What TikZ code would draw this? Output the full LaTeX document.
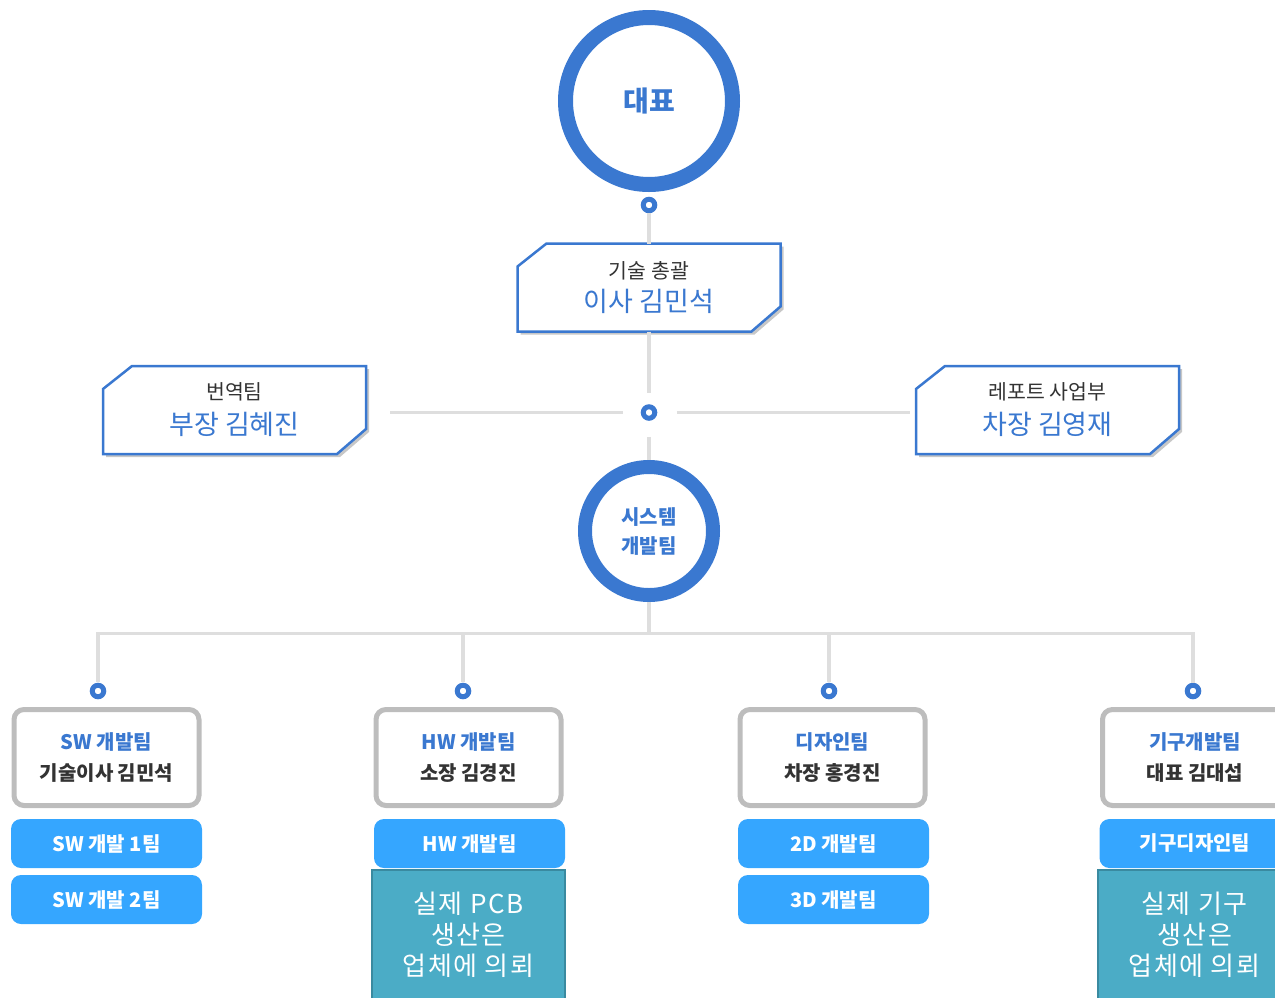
\documentclass[tikz,border=0pt]{standalone}
\usepackage{fontspec}
\setmainfont{Noto Sans CJK KR}
\newfontfamily\tealfont{Noto Sans CJK KR}[LetterSpace=6]
\usetikzlibrary{shadows,calc}
\definecolor{ringblue}{HTML}{3A78D0}
\definecolor{darktxt}{HTML}{333333}
\definecolor{gline}{HTML}{DEDEDE}
\definecolor{gbox}{HTML}{BDBDBD}
\definecolor{lblue}{HTML}{35A6FF}
\definecolor{tealfill}{HTML}{4BACC6}
\definecolor{tealline}{HTML}{3A8AA0}
\newcommand\pentbox[6]{%
  \node[pentbody] (#1) at (#2,#3) {};
  \draw[pentline] ([xshift=29pt]#1.north west) -- (#1.north east) -- ([yshift=25pt]#1.south east)
     -- ([xshift=-29pt]#1.south east) -- (#1.south west) -- ([yshift=-23pt]#1.north west) -- cycle;
  \node[pentsmall] (#1-a) at ([yshift=#6]#1.center) {#4};
  \node[pentbig] (#1-b) at ([yshift=-14pt]#1.center) {#5};
}
\begin{document}
\begin{tikzpicture}[x=1pt,y=-1pt,
  ring/.style={circle, draw=ringblue, fill=white, inner sep=0, text=ringblue, font=\bfseries, align=center},
  dot/.style={circle, draw=ringblue, line width=5pt, fill=white, minimum size=11.5pt, inner sep=0},
  conn/.style={draw=gline, line width=3.5pt},
  pentbody/.style={rectangle, minimum width=263pt, minimum height=88pt, inner sep=0, outer sep=0},
  pentline/.style={draw=ringblue, line width=2.5pt, fill=white, line join=miter,
     drop shadow={shadow xshift=3pt, shadow yshift=-3pt, opacity=0.22, fill=black}},
  pentsmall/.style={inner sep=0, text=darktxt, font=\fontsize{20.5}{24}\selectfont},
  pentbig/.style={inner sep=0, text=ringblue, font=\fontsize{27}{30}\selectfont},
  teambox/.style={rectangle, draw=gbox, line width=5pt, rounded corners=10pt, fill=white,
     minimum width=185pt, minimum height=96pt, inner sep=0, align=center, text=darktxt,
     font=\fontsize{20}{31}\selectfont\bfseries},
  subbox/.style={rectangle, fill=lblue, rounded corners=10pt, minimum width=191pt, minimum height=49pt,
     inner sep=0, text=white, font=\fontsize{20}{24}\selectfont\bfseries},
  tealbox/.style={rectangle, fill=tealfill, draw=tealline, line width=1.5pt, minimum width=193pt,
     minimum height=130pt, inner sep=0, text=white, align=center, font=\tealfont\fontsize{26}{31}\selectfont}
]
\useasboundingbox (0,0) rectangle (1275,997);

% top
\node[ring, line width=15pt, minimum size=167pt, font=\fontsize{28}{30}\selectfont\bfseries] (ceo) at (649,101) {대표};
\node[dot] (d1) at (649,205) {};
\pentbox{tech}{649}{287.5}{기술 총괄}{이사 김민석}{16.5pt}
\pentbox{trans}{234.5}{410}{번역팀}{부장 김혜진}{18pt}
\pentbox{report}{1047.5}{410}{레포트 사업부}{차장 김영재}{18pt}
\node[dot] (d2) at (649,412.5) {};
\node[ring, line width=14pt, minimum size=128pt, font=\fontsize{20}{29}\selectfont\bfseries] (sys) at (649,531) {시스템\\개발팀};

% connectors
\draw[conn] (d1.south) -- (tech.north);
\draw[conn, shorten >=11pt] (tech.south) -- (d2.north);
\draw[conn, shorten <=16pt] (d2.south) -- (sys.north);
\draw[conn, shorten <=24pt, shorten >=17.5pt] (d2.west -| trans.east) -- (d2.west);
\draw[conn, shorten <=19.5pt, shorten >=6pt] (d2.east) -- (d2.east -| report.west);

% bottom dots
\node[dot] (dsw) at (98,691) {};
\node[dot] (dhw) at (463,691) {};
\node[dot] (dds) at (829,691) {};
\node[dot] (dgi) at (1193,691) {};
\coordinate (bus) at (0,633.5);
\draw[conn] (sys.south) -- (sys.south |- bus);
\draw[conn, line join=miter, shorten <=1pt] (dsw.north) -- (dsw.north |- bus) -- (dgi.north |- bus) -- (dgi.north);
\draw[conn, shorten <=1pt] (dhw.north) -- (dhw.north |- bus);
\draw[conn, shorten <=1pt] (dds.north) -- (dds.north |- bus);

% team boxes
\node[teambox] (sw) at (106.5,757.5) {\textcolor{ringblue}{SW 개발팀}\\기술이사 김민석};
\node[teambox] (hw) at (468.5,757.5) {\textcolor{ringblue}{HW 개발팀}\\소장 김경진};
\node[teambox] (ds) at (832.5,757.5) {\textcolor{ringblue}{디자인팀}\\차장 홍경진};
\node[teambox] (gi) at (1195,757.5) {\textcolor{ringblue}{기구개발팀}\\대표 김대섭};

\node[subbox] (sw1) at (106.5,843.5) {SW 개발 1팀};
\node[subbox] (sw2) at (106.5,899.5) {SW 개발 2팀};
\node[subbox] (hw1) at (469.5,843.5) {HW 개발팀};
\node[subbox] (ds1) at (833.5,843.5) {2D 개발팀};
\node[subbox] (ds2) at (833.5,899.5) {3D 개발팀};
\node[subbox] (gi1) at (1195,843.5) {기구디자인팀};

\node[tealbox] (hwout) at (468.5,935) {실제 PCB\\생산은\\업체에 의뢰};
\node[tealbox] (giout) at (1194.5,935) {실제 기구\\생산은\\업체에 의뢰};
\end{tikzpicture}
\end{document}
